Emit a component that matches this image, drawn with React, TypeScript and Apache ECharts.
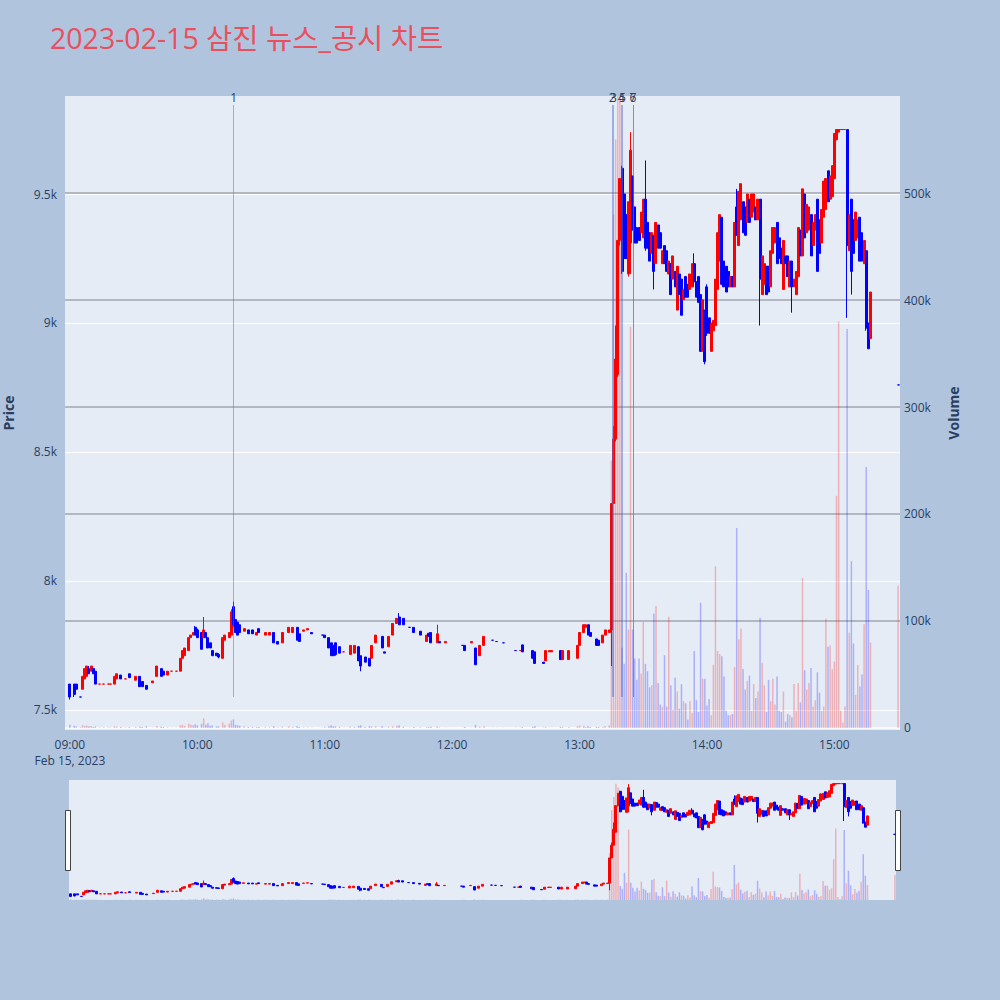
import React, { useEffect, useRef } from "react";
import * as echarts from "echarts";

// [time, open, close, low, high, volume]
type Row = [string, number, number, number, number, number];

const morningRows: Row[] = [
  ["09:00", 7600, 7550, 7540, 7600, 3000],
  ["09:02", 7600, 7560, 7550, 7600, 2000],
  ["09:03", 7600, 7580, 7580, 7600, 1500],
  ["09:05", 7550, 7550, 7550, 7550, 800],
  ["09:06", 7580, 7630, 7580, 7630, 2500],
  ["09:07", 7620, 7660, 7620, 7660, 2000],
  ["09:08", 7630, 7670, 7630, 7670, 2200],
  ["09:09", 7660, 7640, 7640, 7670, 1500],
  ["09:10", 7650, 7670, 7650, 7670, 1800],
  ["09:11", 7660, 7640, 7640, 7660, 1000],
  ["09:12", 7650, 7600, 7600, 7650, 1500],
  ["09:14", 7600, 7600, 7600, 7600, 500],
  ["09:16", 7600, 7600, 7600, 7600, 600],
  ["09:18", 7600, 7600, 7600, 7600, 400],
  ["09:19", 7600, 7600, 7600, 7600, 500],
  ["09:21", 7600, 7630, 7600, 7630, 1500],
  ["09:22", 7620, 7640, 7620, 7640, 1200],
  ["09:24", 7635, 7620, 7620, 7635, 800],
  ["09:26", 7620, 7620, 7620, 7620, 400],
  ["09:28", 7640, 7625, 7625, 7640, 900],
  ["09:31", 7615, 7630, 7615, 7630, 1000],
  ["09:33", 7630, 7590, 7590, 7630, 1200],
  ["09:34", 7610, 7590, 7590, 7610, 800],
  ["09:36", 7595, 7580, 7580, 7595, 1500],
  ["09:39", 7605, 7612, 7605, 7612, 300],
  ["09:41", 7630, 7670, 7630, 7670, 1800],
  ["09:43", 7660, 7630, 7630, 7660, 1200],
  ["09:44", 7650, 7635, 7635, 7650, 800],
  ["09:46", 7635, 7650, 7635, 7650, 700],
  ["09:48", 7650, 7650, 7650, 7650, 300],
  ["09:50", 7650, 7650, 7650, 7650, 300],
  ["09:52", 7650, 7700, 7650, 7700, 2500],
  ["09:53", 7700, 7730, 7700, 7730, 3000],
  ["09:54", 7710, 7740, 7710, 7740, 2000],
  ["09:56", 7730, 7780, 7730, 7780, 4000],
  ["09:57", 7780, 7790, 7780, 7790, 3000],
  ["09:58", 7790, 7800, 7790, 7800, 2500],
  ["09:59", 7820, 7790, 7790, 7825, 3500],
  ["10:00", 7810, 7780, 7780, 7815, 2500],
  ["10:02", 7800, 7735, 7735, 7800, 4000],
  ["10:03", 7780, 7810, 7780, 7860, 9000],
  ["10:04", 7800, 7780, 7780, 7800, 3000],
  ["10:05", 7780, 7740, 7740, 7780, 4500],
  ["10:06", 7760, 7740, 7740, 7760, 2000],
  ["10:07", 7730, 7710, 7710, 7730, 2500],
  ["10:09", 7720, 7710, 7710, 7720, 1500],
  ["10:10", 7715, 7705, 7700, 7720, 1500],
  ["10:12", 7700, 7780, 7700, 7780, 5000],
  ["10:13", 7770, 7790, 7770, 7790, 3000],
  ["10:15", 7780, 7800, 7780, 7800, 4000],
  ["10:16", 7790, 7880, 7790, 7890, 7000],
  ["10:17", 7900, 7830, 7820, 7920, 8000],
  ["10:18", 7850, 7800, 7800, 7850, 3000],
  ["10:19", 7840, 7790, 7790, 7840, 2500],
  ["10:20", 7830, 7800, 7800, 7830, 2000],
  ["10:22", 7805, 7815, 7805, 7815, 1500],
  ["10:24", 7810, 7795, 7795, 7810, 1000],
  ["10:26", 7810, 7795, 7795, 7810, 1000],
  ["10:28", 7790, 7800, 7790, 7800, 800],
  ["10:29", 7815, 7800, 7800, 7815, 1000],
  ["10:32", 7790, 7800, 7790, 7800, 800],
  ["10:34", 7790, 7800, 7790, 7800, 600],
  ["10:36", 7800, 7760, 7760, 7800, 1500],
  ["10:38", 7765, 7755, 7755, 7765, 500],
  ["10:40", 7760, 7800, 7760, 7800, 1200],
  ["10:43", 7800, 7820, 7800, 7820, 1500],
  ["10:45", 7800, 7820, 7800, 7820, 1000],
  ["10:47", 7820, 7770, 7770, 7820, 1500],
  ["10:48", 7795, 7765, 7765, 7795, 800],
  ["10:50", 7805, 7810, 7805, 7810, 500],
  ["10:52", 7810, 7815, 7810, 7815, 400],
  ["10:54", 7800, 7795, 7795, 7800, 300],
  ["10:59", 7790, 7790, 7790, 7790, 300],
];

const middayRows: Row[] = [
  ["11:00", 7790, 7780, 7780, 7790, 600],
  ["11:02", 7780, 7740, 7740, 7780, 1500],
  ["11:03", 7760, 7710, 7710, 7760, 2500],
  ["11:04", 7750, 7710, 7710, 7750, 1500],
  ["11:05", 7760, 7715, 7710, 7760, 1500],
  ["11:07", 7745, 7720, 7720, 7745, 1000],
  ["11:09", 7725, 7725, 7725, 7725, 300],
  ["11:12", 7715, 7750, 7715, 7750, 1200],
  ["11:14", 7720, 7750, 7720, 7750, 1000],
  ["11:16", 7745, 7690, 7690, 7745, 2000],
  ["11:17", 7710, 7670, 7650, 7710, 2500],
  ["11:19", 7705, 7685, 7685, 7705, 1000],
  ["11:21", 7700, 7670, 7670, 7700, 1500],
  ["11:22", 7700, 7750, 7700, 7750, 1500],
  ["11:24", 7760, 7790, 7760, 7790, 1500],
  ["11:27", 7785, 7740, 7740, 7785, 1500],
  ["11:28", 7725, 7720, 7720, 7725, 300],
  ["11:30", 7745, 7785, 7745, 7785, 1200],
  ["11:32", 7790, 7835, 7790, 7835, 1500],
  ["11:34", 7835, 7855, 7835, 7855, 2000],
  ["11:35", 7860, 7830, 7830, 7875, 2500],
  ["11:37", 7855, 7830, 7830, 7855, 1000],
  ["11:40", 7820, 7820, 7820, 7820, 400],
  ["11:42", 7820, 7800, 7800, 7820, 800],
  ["11:45", 7805, 7790, 7790, 7805, 600],
  ["11:48", 7765, 7790, 7765, 7790, 800],
  ["11:49", 7797, 7785, 7785, 7797, 600],
  ["11:50", 7800, 7760, 7760, 7800, 1200],
  ["11:53", 7760, 7795, 7760, 7830, 1500],
  ["11:54", 7765, 7760, 7760, 7765, 400],
  ["11:57", 7760, 7765, 7760, 7765, 300],
  ["12:05", 7750, 7750, 7750, 7750, 300],
  ["12:06", 7750, 7730, 7730, 7750, 800],
  ["12:09", 7760, 7765, 7760, 7765, 300],
  ["12:11", 7740, 7675, 7675, 7740, 3000],
  ["12:13", 7710, 7750, 7710, 7750, 1200],
  ["12:15", 7750, 7785, 7750, 7785, 1500],
  ["12:19", 7770, 7770, 7770, 7770, 300],
  ["12:21", 7765, 7765, 7765, 7765, 300],
  ["12:24", 7760, 7760, 7760, 7760, 300],
  ["12:30", 7730, 7730, 7730, 7730, 300],
  ["12:32", 7730, 7730, 7730, 7730, 300],
  ["12:33", 7752, 7725, 7725, 7752, 800],
  ["12:38", 7730, 7700, 7700, 7730, 1200],
  ["12:39", 7725, 7680, 7680, 7725, 1500],
  ["12:43", 7685, 7680, 7680, 7685, 300],
  ["12:44", 7690, 7730, 7690, 7730, 1000],
  ["12:46", 7725, 7730, 7725, 7730, 300],
  ["12:47", 7725, 7730, 7725, 7730, 300],
  ["12:51", 7730, 7695, 7695, 7730, 1000],
  ["12:52", 7695, 7730, 7695, 7730, 1000],
  ["12:55", 7695, 7730, 7695, 7730, 1000],
  ["12:59", 7700, 7750, 7700, 7750, 1500],
  ["13:00", 7750, 7800, 7750, 7800, 2500],
  ["13:02", 7800, 7830, 7800, 7830, 2000],
  ["13:03", 7820, 7830, 7820, 7830, 1000],
  ["13:04", 7830, 7790, 7790, 7830, 1500],
  ["13:05", 7800, 7785, 7785, 7800, 800],
  ["13:08", 7775, 7750, 7750, 7775, 1000],
  ["13:09", 7770, 7750, 7750, 7770, 800],
  ["13:11", 7760, 7790, 7760, 7790, 1000],
  ["13:12", 7790, 7810, 7790, 7810, 1500],
  ["13:14", 7800, 7810, 7800, 7810, 2500],
];

const afternoonRows: Row[] = [
  ["13:15", 7810, 8300, 7670, 8300, 250000],
  ["13:16", 8300, 8550, 8300, 8600, 480000],
  ["13:17", 8550, 8860, 8540, 8990, 550000],
  ["13:18", 8800, 9320, 8790, 9320, 620000],
  ["13:19", 9320, 9560, 9300, 9560, 600000],
  ["13:20", 9600, 9200, 9190, 9610, 75000],
  ["13:21", 9500, 9250, 9240, 9510, 60000],
  ["13:22", 9420, 9250, 9250, 9420, 145000],
  ["13:23", 9190, 9470, 9180, 9470, 92000],
  ["13:24", 9310, 9670, 9190, 9740, 375000],
  ["13:25", 9570, 9360, 9360, 9570, 92000],
  ["13:26", 9450, 9310, 9310, 9450, 65000],
  ["13:27", 9370, 9310, 9310, 9370, 45000],
  ["13:28", 9370, 9320, 9320, 9370, 65000],
  ["13:29", 9350, 9430, 9350, 9430, 51000],
  ["13:30", 9330, 9480, 9330, 9480, 99000],
  ["13:31", 9480, 9290, 9280, 9630, 60000],
  ["13:32", 9390, 9290, 9290, 9390, 53000],
  ["13:33", 9350, 9240, 9240, 9350, 38000],
  ["13:34", 9270, 9350, 9270, 9350, 40000],
  ["13:35", 9340, 9200, 9130, 9340, 107000],
  ["13:36", 9230, 9390, 9230, 9390, 114000],
  ["13:37", 9380, 9290, 9290, 9380, 42000],
  ["13:38", 9350, 9290, 9290, 9350, 22000],
  ["13:39", 9230, 9280, 9230, 9280, 20000],
  ["13:40", 9300, 9230, 9230, 9300, 68000],
  ["13:41", 9280, 9200, 9200, 9280, 20000],
  ["13:42", 9190, 9240, 9190, 9240, 104000],
  ["13:43", 9230, 9110, 9110, 9230, 40000],
  ["13:44", 9170, 9260, 9170, 9260, 17000],
  ["13:45", 9200, 9140, 9140, 9200, 47000],
  ["13:46", 9050, 9220, 9050, 9220, 34000],
  ["13:47", 9190, 9110, 9110, 9190, 18000],
  ["13:48", 9170, 9030, 9030, 9170, 41000],
  ["13:49", 9090, 9130, 9090, 9130, 25000],
  ["13:50", 9180, 9100, 9100, 9180, 23000],
  ["13:51", 9150, 9100, 9100, 9150, 8000],
  ["13:52", 9130, 9190, 9130, 9190, 25000],
  ["13:53", 9140, 9230, 9140, 9230, 14000],
  ["13:54", 9230, 9160, 9150, 9270, 72000],
  ["13:55", 9160, 9100, 9100, 9160, 26000],
  ["13:56", 9180, 9080, 9080, 9180, 15000],
  ["13:57", 9110, 8890, 8890, 9110, 117000],
  ["13:58", 8890, 9090, 8890, 9090, 46000],
  ["13:59", 9050, 8850, 8840, 9050, 46000],
  ["14:00", 9140, 8960, 8950, 9150, 21000],
  ["14:01", 9020, 8960, 8960, 9020, 27000],
  ["14:02", 8890, 9000, 8890, 9000, 12000],
  ["14:03", 8970, 9010, 8970, 9010, 59000],
  ["14:04", 8990, 9170, 8990, 9170, 151000],
  ["14:05", 9130, 9350, 9130, 9350, 72000],
  ["14:06", 9240, 9420, 9240, 9420, 69000],
  ["14:07", 9410, 9150, 9150, 9410, 67000],
  ["14:08", 9240, 9140, 9140, 9240, 48000],
  ["14:09", 9220, 9120, 9120, 9220, 16000],
  ["14:10", 9200, 9140, 9140, 9200, 12000],
  ["14:11", 9140, 9180, 9140, 9180, 12000],
  ["14:12", 9180, 9140, 9140, 9180, 13000],
  ["14:13", 9140, 9390, 9140, 9390, 57000],
  ["14:14", 9450, 9340, 9340, 9520, 187000],
  ["14:15", 9300, 9510, 9300, 9510, 83000],
  ["14:16", 9400, 9540, 9400, 9540, 93000],
  ["14:17", 9470, 9350, 9350, 9470, 55000],
  ["14:18", 9450, 9340, 9340, 9450, 36000],
  ["14:19", 9390, 9500, 9390, 9500, 44000],
  ["14:20", 9480, 9390, 9390, 9480, 49000],
  ["14:21", 9410, 9500, 9410, 9500, 16000],
  ["14:22", 9430, 9500, 9430, 9500, 41000],
  ["14:23", 9450, 9400, 9400, 9450, 28000],
  ["14:24", 9400, 9480, 9400, 9480, 34000],
  ["14:25", 9480, 9170, 8990, 9480, 103000],
  ["14:26", 9110, 9260, 9110, 9260, 61000],
  ["14:27", 9150, 9230, 9150, 9230, 40000],
  ["14:28", 9220, 9110, 9110, 9220, 15000],
  ["14:29", 9220, 9120, 9120, 9220, 45000],
  ["14:30", 9140, 9280, 9140, 9280, 25000],
  ["14:31", 9270, 9370, 9270, 9370, 46000],
  ["14:32", 9310, 9370, 9310, 9370, 22000],
  ["14:33", 9390, 9230, 9230, 9390, 48000],
  ["14:34", 9330, 9250, 9250, 9330, 16000],
  ["14:35", 9290, 9230, 9230, 9290, 15000],
  ["14:36", 9130, 9320, 9130, 9320, 34000],
  ["14:37", 9260, 9230, 9230, 9260, 6000],
  ["14:38", 9260, 9180, 9180, 9260, 13000],
  ["14:39", 9140, 9240, 9140, 9240, 12000],
  ["14:40", 9240, 9140, 9040, 9240, 10000],
  ["14:41", 9140, 9170, 9140, 9170, 41000],
  ["14:42", 9110, 9200, 9110, 9200, 16000],
  ["14:43", 9180, 9370, 9180, 9370, 42000],
  ["14:44", 9360, 9260, 9260, 9360, 24000],
  ["14:45", 9260, 9520, 9260, 9520, 140000],
  ["14:46", 9500, 9330, 9330, 9500, 54000],
  ["14:47", 9350, 9460, 9350, 9460, 36000],
  ["14:48", 9360, 9450, 9360, 9450, 42000],
  ["14:49", 9420, 9260, 9260, 9420, 56000],
  ["14:50", 9300, 9390, 9300, 9390, 20000],
  ["14:51", 9360, 9420, 9360, 9420, 26000],
  ["14:52", 9480, 9200, 9200, 9480, 52000],
  ["14:53", 9400, 9270, 9270, 9400, 33000],
  ["14:54", 9310, 9440, 9310, 9440, 16000],
  ["14:55", 9410, 9550, 9410, 9550, 20000],
  ["14:56", 9440, 9560, 9440, 9560, 102000],
  ["14:57", 9590, 9470, 9470, 9590, 76000],
  ["14:58", 9480, 9570, 9480, 9570, 77000],
  ["14:59", 9490, 9610, 9490, 9610, 55000],
  ["15:00", 9560, 9735, 9560, 9735, 62000],
  ["15:01", 9710, 9750, 9710, 9750, 217000],
  ["15:02", 9740, 9750, 9740, 9750, 380000],
  ["15:03", 9750, 9750, 9750, 9750, 16000],
  ["15:04", 9750, 9750, 9750, 9750, 5000],
  ["15:05", 9750, 9750, 9750, 9750, 20000],
  ["15:06", 9750, 9300, 9020, 9750, 373000],
  ["15:07", 9280, 9420, 9280, 9420, 89000],
  ["15:08", 9480, 9200, 9110, 9480, 156000],
  ["15:09", 9400, 9270, 9270, 9400, 79000],
  ["15:10", 9320, 9430, 9320, 9430, 31000],
  ["15:11", 9330, 9400, 9330, 9400, 59000],
  ["15:12", 9410, 9240, 9240, 9410, 39000],
  ["15:13", 9350, 9240, 9240, 9350, 50000],
  ["15:14", 9230, 9320, 9230, 9320, 97000],
  ["15:15", 9280, 8980, 8970, 9280, 244000],
  ["15:16", 9000, 8900, 8900, 9000, 129000],
  ["15:17", 8940, 9120, 8940, 9120, 80000],
];

const closingRows: Row[] = [["15:30", 8760, 8760, 8760, 8760, 133000]];

const newsTimes = ["10:17:05", "13:15:20", "13:16:00", "13:19:40", "13:20:10", "13:25:05", "13:25:05"];
const newsLabels = ["1", "2", "3", "4", "5", "6", "7"];

const toMin = (t: string) => {
  const [h, m, s = 0] = t.split(":").map(Number);
  return (h - 9) * 60 + m + s / 60;
};

const fmtTime = (v: number) => {
  const h = 9 + Math.floor(v / 60);
  const m = v % 60;
  return String(h).padStart(2, "0") + ":" + String(m).padStart(2, "0");
};

const App = () => {
  const chartRef = useRef<HTMLDivElement>(null);

  useEffect(() => {
    document.body.style.margin = "0";
    const myChart = echarts.init(chartRef.current!, undefined, { renderer: "svg" });

    const rows = [...morningRows, ...middayRows, ...afternoonRows, ...closingRows];
    const candles = rows.map((r) => [toMin(r[0]), r[1], r[2], r[3], r[4]]);
    const vols = (upC: string, downC: string) =>
      rows.map((r) => ({
        value: [toMin(r[0]), r[5]],
        itemStyle: { color: r[2] >= r[1] ? upC : downC },
      }));

    const candleStyle = {
      color: "#ff0000",
      color0: "#0000ff",
      borderColor: "#ff0000",
      borderColor0: "#0000ff",
      borderWidth: 1,
    };
    const labelColor = "#2a3f5f";
    const gray = "#a2a6b0";
    const font = '"Open Sans", "Noto Sans CJK KR", sans-serif';

    const option = {
      animation: false,
      backgroundColor: "#b0c4de",
      textStyle: { fontFamily: font },
      title: {
        text: "2023-02-15 삼진 뉴스_공시 차트",
        left: 45,
        top: 19,
        textStyle: { color: "#e8505f", fontSize: 28.5, fontWeight: "normal", fontFamily: font },
      },
      grid: [
        { left: 65, right: 100, top: 96, bottom: 270, show: true, backgroundColor: "#e5ecf6", borderWidth: 0, outerBoundsMode: "none" },
        { left: 69, right: 104, top: 780, bottom: 100, show: true, backgroundColor: "#e5ecf6", borderWidth: 0, outerBoundsMode: "none" },
      ],
      xAxis: [
        {
          type: "value",
          gridIndex: 0,
          min: -2.3,
          max: 390.9,
          minInterval: 60,
          maxInterval: 60,
          axisLine: { show: false },
          axisTick: { show: false },
          splitLine: { show: false },
          axisLabel: {
            color: labelColor,
            fontSize: 12,
            margin: 6,
            lineHeight: 16,
            showMinLabel: false,
            showMaxLabel: false,
            formatter: (v: number) => (v === 0 ? "09:00\nFeb 15, 2023" : fmtTime(v)),
          },
        },
        { type: "value", gridIndex: 1, min: -0.8, max: 390.5, show: false },
      ],
      yAxis: [
        {
          type: "value",
          gridIndex: 0,
          position: "left",
          min: 7422,
          max: 9880,
          minInterval: 500,
          maxInterval: 500,
          name: "Price",
          nameLocation: "middle",
          nameGap: 50,
          nameTextStyle: { color: labelColor, fontSize: 14, fontWeight: "bold" },
          axisLine: { show: false },
          axisTick: { show: false },
          axisLabel: {
            color: labelColor,
            fontSize: 12,
            margin: 8,
            showMinLabel: false,
            showMaxLabel: false,
            formatter: (v: number) => v / 1000 + "k",
          },
          splitLine: { show: true, showMinLine: false, showMaxLine: false, lineStyle: { color: "#ffffff", width: 1 } },
        },
        {
          type: "value",
          gridIndex: 0,
          position: "right",
          min: -1900,
          max: 590700,
          minInterval: 100000,
          maxInterval: 100000,
          name: "Volume",
          nameLocation: "middle",
          nameGap: 46,
          nameTextStyle: { color: labelColor, fontSize: 14, fontWeight: "bold" },
          axisLine: { show: false },
          axisTick: { show: false },
          axisLabel: {
            color: labelColor,
            fontSize: 12,
            margin: 4,
            showMinLabel: false,
            showMaxLabel: false,
            formatter: (v: number) => (v === 0 ? "0" : v / 1000 + "k"),
          },
          splitLine: {
            show: true,
            showMinLine: false,
            showMaxLine: false,
            lineStyle: { color: ["#ffffff", gray, gray, gray, gray, gray], width: 1.6 },
          },
        },
        { type: "value", gridIndex: 1, min: 7480, max: 9820, show: false },
        { type: "value", gridIndex: 1, min: 0, max: 640000, show: false },
      ],
      graphic: [
        { type: "rect", shape: { x: 65.5, y: 810.5, width: 5, height: 60 }, style: { fill: "#ffffff", stroke: "#444444", lineWidth: 1 } },
        { type: "rect", shape: { x: 895.5, y: 810.5, width: 5, height: 60 }, style: { fill: "#ffffff", stroke: "#444444", lineWidth: 1 } },
      ],
      series: [
        {
          name: "Volume",
          type: "bar",
          xAxisIndex: 0,
          yAxisIndex: 1,
          barWidth: 1.5,
          z: 1,
          data: vols("rgba(255,0,0,0.25)", "rgba(0,0,255,0.25)"),
        },
        {
          name: "Price",
          type: "candlestick",
          xAxisIndex: 0,
          yAxisIndex: 0,
          barWidth: 2.5,
          z: 3,
          encode: { x: 0, y: [1, 2, 3, 4] },
          itemStyle: candleStyle,
          data: candles,
          markLine: {
            symbol: ["none", "none"],
            silent: true,
            lineStyle: { color: "rgba(80,110,210,0.5)", width: 1, type: "solid" },
            label: { show: true, position: "end", formatter: "{b}", color: labelColor, fontSize: 12, distance: 2 },
            data: newsTimes.map((t, i) => [
              { name: newsLabels[i], coord: [toMin(t), 7550] },
              { coord: [toMin(t), 9845] },
            ]),
          },
        },
        {
          type: "bar",
          xAxisIndex: 1,
          yAxisIndex: 3,
          barWidth: 1.5,
          z: 1,
          silent: true,
          data: vols("rgba(255,0,0,0.25)", "rgba(0,0,255,0.25)"),
        },
        {
          type: "candlestick",
          xAxisIndex: 1,
          yAxisIndex: 2,
          barWidth: 2.5,
          z: 3,
          silent: true,
          encode: { x: 0, y: [1, 2, 3, 4] },
          itemStyle: candleStyle,
          data: candles,
        },
      ],
    };
    myChart.setOption(option);

    return () => {
      myChart.dispose();
    };
  }, []);

  return <div ref={chartRef} style={{ width: 1000, height: 1000 }}></div>;
};

export default App;
